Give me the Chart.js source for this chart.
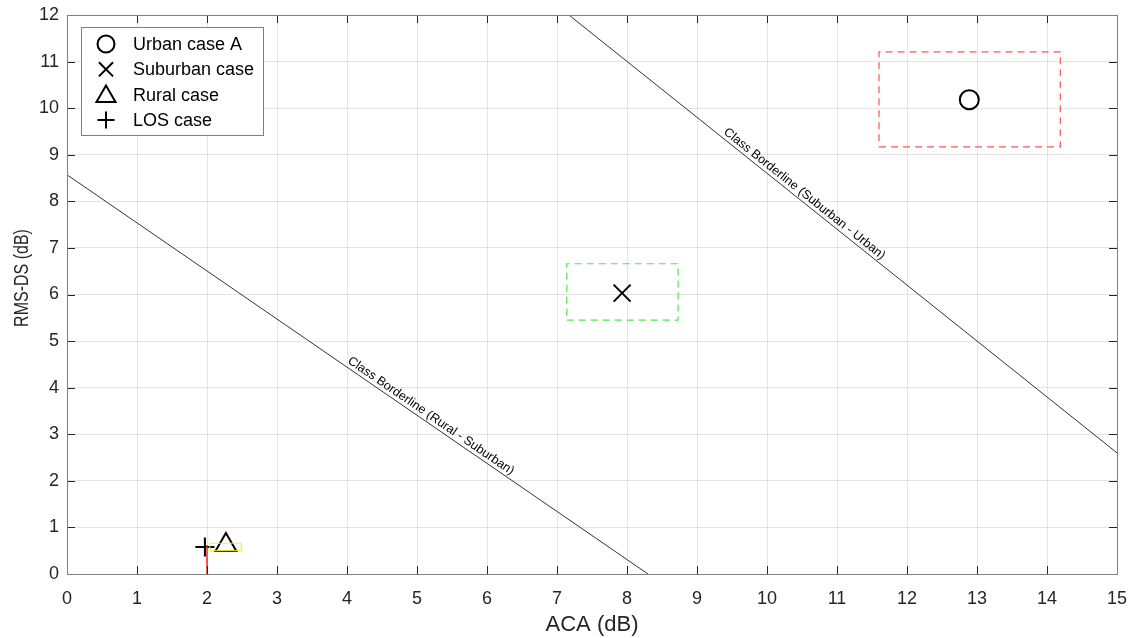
<!DOCTYPE html>
<html>
<head>
<meta charset="utf-8">
<script src="https://cdn.jsdelivr.net/npm/chart.js@4"></script>
<style>
  html, body { margin: 0; padding: 0; background: #fff; }
  #wrap { width: 1133px; height: 638px; }
</style>
</head>
<body>
<div id="wrap"><canvas id="chart"></canvas></div>
<script>
// measured cases (ACA dB, RMS-DS dB)
const urbanPoint = [{ x: 12.89, y: 10.18 }];
const suburbanPoint = [{ x: 7.93, y: 6.03 }];
const ruralPoint = [{ x: 2.27, y: 0.62 }];
const losPoint = [{ x: 1.97, y: 0.58 }];

// spread boxes [xmin, xmax, ymin, ymax]
const urbanBox = [11.6, 14.19, 9.17, 11.21];
const suburbanBox = [7.14, 8.73, 5.45, 6.66];
const ruralBox = [2.04, 2.49, 0.5, 0.66];
const losSpan = [2.0, 2.0, 0, 0.62];

// class borderlines
const borderRuralSub = [{ x: 0, y: 8.57 }, { x: 8.3, y: 0 }];
const borderSubUrban = [{ x: 7.17, y: 12 }, { x: 15, y: 2.6 }];
const borderLabels = ['Class Borderline (Rural - Suburban)', 'Class Borderline (Suburban - Urban)'];
const borderLabelX = [5.14, 10.47];

const xTicks = [0, 1, 2, 3, 4, 5, 6, 7, 8, 9, 10, 11, 12, 13, 14, 15];
const yTicks = [0, 1, 2, 3, 4, 5, 6, 7, 8, 9, 10, 11, 12];

const legendNames = ['Urban case A', 'Suburban case', 'Rural case', 'LOS case'];
const yTitle = 'RMS-DS (dB)';

function boxPoints(b) {
  return [
    { x: b[0], y: b[2] }, { x: b[1], y: b[2] }, { x: b[1], y: b[3] },
    { x: b[0], y: b[3] }, { x: b[0], y: b[2] }
  ];
}

const FONT = '"Liberation Sans", Arial, sans-serif';

function markerSet(label, data, style, radius) {
  return {
    label: label, data: data, showLine: false,
    pointStyle: style, pointRadius: radius, pointHoverRadius: radius,
    borderColor: '#000', backgroundColor: 'rgba(0,0,0,0)', pointBorderWidth: 2
  };
}
function lineSet(data, color, dash, width) {
  return {
    label: '', data: data, showLine: true, pointRadius: 0,
    borderColor: color, borderWidth: width || 1, borderDash: dash || [],
    fill: false, tension: 0
  };
}

// MATLAB style: ticks inside the box on all four sides + box outline
const boxTicks = {
  id: 'boxTicks',
  afterDatasetsDraw(chart) {
    const { ctx, chartArea: a, scales } = chart;
    ctx.save();
    ctx.strokeStyle = '#262626';
    ctx.lineWidth = 1;
    const len = 8;
    ctx.beginPath();
    xTicks.forEach(v => {
      const px = Math.round(scales.x.getPixelForValue(v)) + 0.5;
      ctx.moveTo(px, a.bottom); ctx.lineTo(px, a.bottom - len);
      ctx.moveTo(px, a.top); ctx.lineTo(px, a.top + len);
    });
    yTicks.forEach(v => {
      const py = Math.round(scales.y.getPixelForValue(v)) + 0.5;
      ctx.moveTo(a.left, py); ctx.lineTo(a.left + len, py);
      ctx.moveTo(a.right, py); ctx.lineTo(a.right - len, py);
    });
    ctx.stroke();
    ctx.strokeStyle = '#808080';
    ctx.strokeRect(a.left + 0.5, a.top + 0.5, a.right - a.left, a.bottom - a.top);
    ctx.restore();
  }
};

// rotated text along each borderline
const borderText = {
  id: 'borderText',
  afterDatasetsDraw(chart) {
    const { ctx, scales } = chart;
    [borderRuralSub, borderSubUrban].forEach((ln, i) => {
      const p0x = scales.x.getPixelForValue(ln[0].x), p0y = scales.y.getPixelForValue(ln[0].y);
      const p1x = scales.x.getPixelForValue(ln[1].x), p1y = scales.y.getPixelForValue(ln[1].y);
      const ang = Math.atan2(p1y - p0y, p1x - p0x);
      const t = (borderLabelX[i] - ln[0].x) / (ln[1].x - ln[0].x);
      const cx = p0x + t * (p1x - p0x), cy = p0y + t * (p1y - p0y);
      ctx.save();
      ctx.translate(cx, cy);
      ctx.rotate(ang);
      ctx.font = '12.5px ' + FONT;
      ctx.fillStyle = '#000';
      ctx.textAlign = 'center';
      ctx.textBaseline = 'bottom';
      ctx.fillText(borderLabels[i], 0, -1);
      ctx.restore();
    });
  }
};

// y axis title, narrow like the source figure
const yTitleText = {
  id: 'yTitleText',
  afterDraw(chart) {
    const { ctx } = chart;
    ctx.save();
    ctx.translate(22, 278);
    ctx.rotate(-Math.PI / 2);
    ctx.scale(0.8, 1);
    ctx.font = '20px ' + FONT;
    ctx.fillStyle = '#262626';
    ctx.textAlign = 'center';
    ctx.textBaseline = 'middle';
    ctx.fillText(yTitle, 0, 0);
    ctx.restore();
  }
};

// legend box inside the plot, top-left
const insideLegend = {
  id: 'insideLegend',
  afterDraw(chart) {
    const { ctx, chartArea: a } = chart;
    const x0 = a.left + 14, y0 = a.top + 12, w = 182, h = 108;
    ctx.save();
    ctx.fillStyle = '#fff';
    ctx.fillRect(x0, y0, w, h);
    ctx.strokeStyle = '#808080';
    ctx.lineWidth = 1;
    ctx.strokeRect(x0 + 0.5, y0 + 0.5, w, h);
    const styles = ['circle', 'crossRot', 'triangle', 'cross'];
    const radii = [8.5, 10, 11, 8.5];
    ctx.font = '18px ' + FONT;
    ctx.textBaseline = 'middle';
    legendNames.forEach((name, i) => {
      const cy = y0 + 17 + i * 25.3;
      ctx.strokeStyle = '#000';
      ctx.fillStyle = 'rgba(0,0,0,0)';
      ctx.lineWidth = 2;
      Chart.helpers.drawPoint(ctx, { pointStyle: styles[i], radius: radii[i], rotation: 0, borderWidth: 2 }, x0 + 25, cy + (i === 2 ? 2 : 0));
      ctx.fillStyle = '#000';
      ctx.fillText(name, x0 + 52, cy + 1);
    });
    ctx.restore();
  }
};

new Chart(document.getElementById('chart'), {
  type: 'scatter',
  data: {
    datasets: [
      lineSet(borderRuralSub, '#333', [], 1),
      lineSet(borderSubUrban, '#333', [], 1),
      lineSet(boxPoints(urbanBox), 'rgba(255,40,40,0.8)', [7, 5], 1.2),
      lineSet(boxPoints(suburbanBox), 'rgba(40,230,40,0.85)', [7, 5], 1.2),
      lineSet(boxPoints(ruralBox), 'rgba(240,240,40,0.9)', [], 1.2),
      lineSet([{ x: losSpan[0], y: losSpan[2] }, { x: losSpan[1], y: losSpan[3] }], '#ff2020', [], 1.5),
      markerSet(legendNames[0], urbanPoint, 'circle', 9.5),
      markerSet(legendNames[1], suburbanPoint, 'crossRot', 12),
      markerSet(legendNames[2], ruralPoint, 'triangle', 12),
      markerSet(legendNames[3], losPoint, 'cross', 9.5)
    ]
  },
  options: {
    responsive: true,
    maintainAspectRatio: false,
    animation: false,
    layout: { padding: { top: 15, right: 16, left: 0, bottom: 0 } },
    plugins: {
      legend: { display: false },
      tooltip: { enabled: false }
    },
    scales: {
      x: {
        type: 'linear', min: 0, max: 15,
        afterBuildTicks(s) { s.ticks = xTicks.map(v => ({ value: v })); },
        afterFit(s) { s.height = 64; s.paddingLeft = 0; s.paddingRight = 0; },
        grid: { color: 'rgba(0,0,0,0.1)', drawTicks: false },
        border: { display: false },
        ticks: { color: '#262626', font: { family: FONT, size: 18 }, padding: 14, maxRotation: 0 },
        title: { display: true, text: 'ACA (dB)', color: '#262626', font: { family: FONT, size: 22 }, padding: { top: 0, bottom: 0 } }
      },
      y: {
        type: 'linear', min: 0, max: 12,
        afterBuildTicks(s) { s.ticks = yTicks.map(v => ({ value: v })); },
        afterFit(s) { s.width = 67; s.paddingTop = 0; s.paddingBottom = 0; },
        grid: { color: 'rgba(0,0,0,0.1)', drawTicks: false },
        border: { display: false },
        ticks: { color: '#262626', font: { family: FONT, size: 18 }, padding: 8 }
      }
    }
  },
  plugins: [boxTicks, borderText, insideLegend, yTitleText]
});
</script>
</body>
</html>
